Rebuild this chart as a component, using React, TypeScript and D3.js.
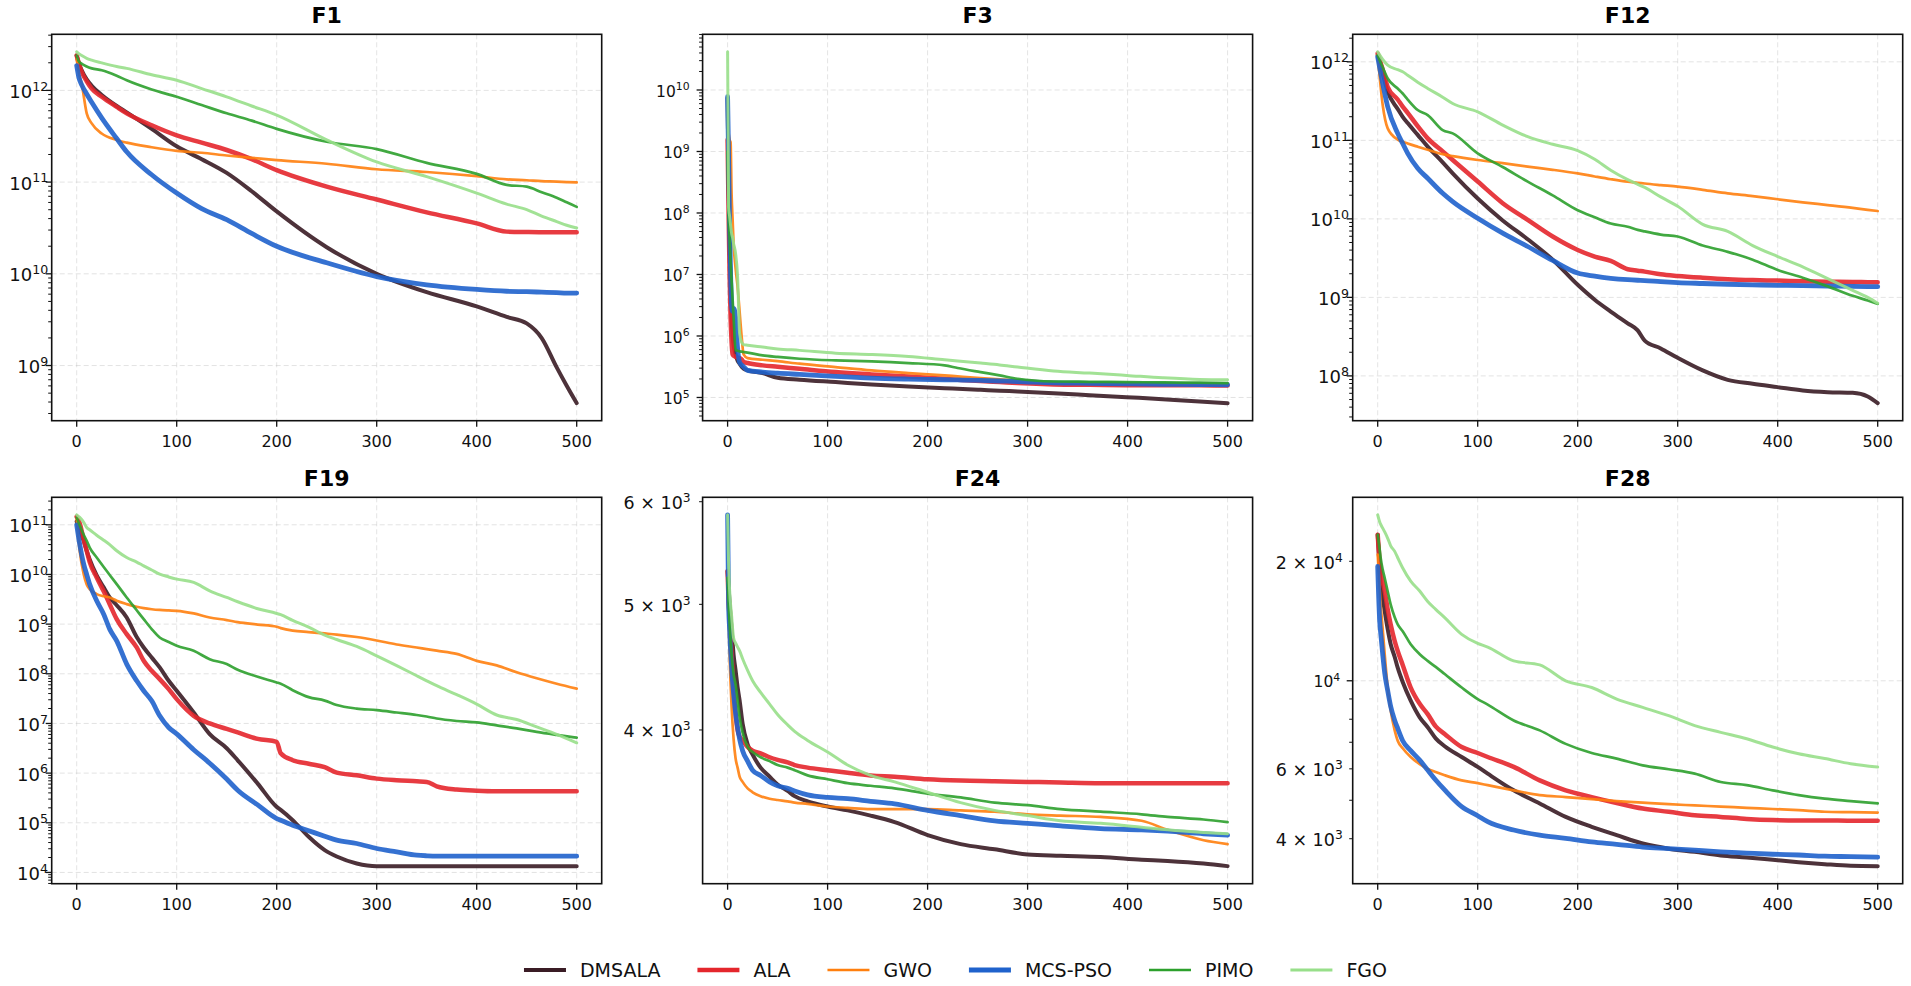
import { useEffect, useRef } from 'react';
import * as d3 from 'd3';

// Convergence curves, six benchmark functions.
// Values are log10(best fitness).

const algorithms = ['DMSALA', 'ALA', 'GWO', 'MCS-PSO', 'PIMO', 'FGO'];
const xTicks = [0, 100, 200, 300, 400, 500];

// ---- F1 ----
const f1Iter = [0, 2, 5, 10, 15, 25, 40, 50, 75, 100, 125, 150, 175, 200, 250, 300, 350, 400, 430, 450, 465, 480, 490, 500];
const f1Dmsala = [12.38, 12.30, 12.22, 12.12, 12.05, 11.95, 11.83, 11.76, 11.58, 11.39, 11.25, 11.10, 10.90, 10.68, 10.29, 10.0, 9.80, 9.645, 9.53, 9.46, 9.30, 8.98, 8.78, 8.59];
const f1Ala = [12.38, 12.30, 12.20, 12.10, 12.02, 11.93, 11.82, 11.75, 11.62, 11.51, 11.43, 11.35, 11.25, 11.13, 10.95, 10.81, 10.67, 10.55, 10.46, 10.455, 10.453, 10.453, 10.453, 10.453];
const f1Gwo = [12.34, 12.20, 12.07, 11.75, 11.64, 11.53, 11.46, 11.43, 11.38, 11.34, 11.32, 11.29, 11.265, 11.24, 11.20, 11.14, 11.11, 11.065, 11.03, 11.02, 11.01, 11.005, 11.0, 10.996];
const f1Mcs = [12.27, 12.15, 12.06, 11.96, 11.87, 11.70, 11.475, 11.33, 11.08, 10.88, 10.71, 10.59, 10.44, 10.30, 10.12, 9.97, 9.88, 9.83, 9.81, 9.805, 9.80, 9.795, 9.79, 9.79];
const f1Pimo = [12.38, 12.32, 12.29, 12.26, 12.24, 12.22, 12.16, 12.11, 12.01, 11.93, 11.84, 11.75, 11.67, 11.58, 11.44, 11.36, 11.21, 11.09, 10.97, 10.95, 10.89, 10.83, 10.78, 10.73];
const f1Fgo = [12.42, 12.40, 12.38, 12.35, 12.33, 12.30, 12.26, 12.24, 12.17, 12.11, 12.02, 11.93, 11.83, 11.73, 11.46, 11.22, 11.06, 10.88, 10.76, 10.70, 10.63, 10.57, 10.53, 10.50];

// ---- F3 ----
const f3Iter = [0, 1, 2, 3, 4, 5, 6, 8, 10, 12, 14, 16, 20, 35, 50, 72, 108, 144, 181, 217, 230, 253, 272, 290, 326, 362, 399, 435, 472, 500];
const f3Dmsala = [9.87, 8.5, 7.5, 6.8, 6.3, 6.0, 5.85, 5.7, 5.6, 5.55, 5.5, 5.47, 5.44, 5.397, 5.32, 5.288, 5.25, 5.212, 5.179, 5.152, 5.143, 5.125, 5.11, 5.098, 5.07, 5.038, 5.005, 4.973, 4.935, 4.908];
const f3Ala = [9.19, 8.0, 7.0, 6.3, 5.9, 5.7, 5.68, 5.66, 5.65, 5.64, 5.62, 5.58, 5.56, 5.522, 5.5, 5.467, 5.413, 5.375, 5.342, 5.304, 5.29, 5.266, 5.25, 5.234, 5.212, 5.205, 5.2, 5.198, 5.197, 5.196];
const f3Gwo = [9.85, 9.3, 9.19, 9.15, 8.3, 7.9, 7.5, 7.1, 6.8, 6.4, 6.0, 5.70, 5.64, 5.614, 5.59, 5.549, 5.494, 5.44, 5.397, 5.359, 5.343, 5.315, 5.295, 5.277, 5.25, 5.24, 5.235, 5.23, 5.226, 5.223];
const f3Mcs = [9.89, 8.9, 7.8, 7.0, 6.5, 6.4, 6.45, 6.3, 5.8, 5.57, 5.53, 5.5, 5.44, 5.413, 5.395, 5.375, 5.342, 5.315, 5.299, 5.288, 5.285, 5.277, 5.268, 5.26, 5.239, 5.23, 5.222, 5.215, 5.21, 5.207];
const f3Pimo = [9.0, 7.95, 7.6, 7.2, 6.9, 6.6, 6.3, 5.77, 5.76, 5.75, 5.745, 5.74, 5.73, 5.685, 5.66, 5.63, 5.603, 5.587, 5.56, 5.522, 5.48, 5.413, 5.359, 5.304, 5.26, 5.255, 5.25, 5.245, 5.24, 5.234];
const f3Fgo = [10.62, 8.1, 7.95, 7.8, 7.67, 7.6, 7.5, 7.34, 6.96, 6.04, 5.9, 5.86, 5.85, 5.82, 5.79, 5.766, 5.72, 5.70, 5.668, 5.614, 5.595, 5.56, 5.53, 5.495, 5.43, 5.397, 5.359, 5.32, 5.293, 5.288];

// ---- F12 ----
const f12Iter = [0, 5, 10, 20, 25, 30, 40, 50, 65, 75, 100, 125, 150, 175, 200, 217, 233, 250, 260, 267, 283, 300, 325, 350, 375, 400, 425, 450, 475, 490, 500];
const f12Dmsala = [12.085, 11.85, 11.62, 11.40, 11.30, 11.22, 11.07, 10.92, 10.72, 10.58, 10.26, 9.98, 9.74, 9.48, 9.16, 8.97, 8.82, 8.67, 8.58, 8.45, 8.35, 8.23, 8.07, 7.95, 7.90, 7.857, 7.814, 7.793, 7.785, 7.738, 7.653];
const f12Ala = [12.106, 11.90, 11.68, 11.52, 11.43, 11.35, 11.18, 11.025, 10.86, 10.75, 10.475, 10.2, 9.987, 9.775, 9.604, 9.52, 9.464, 9.358, 9.34, 9.328, 9.294, 9.273, 9.25, 9.231, 9.22, 9.214, 9.205, 9.2, 9.195, 9.194, 9.193];
const f12Gwo = [12.085, 11.45, 11.153, 11.01, 10.983, 10.96, 10.919, 10.88, 10.825, 10.80, 10.75, 10.71, 10.665, 10.625, 10.579, 10.54, 10.505, 10.473, 10.46, 10.45, 10.43, 10.41, 10.37, 10.325, 10.29, 10.25, 10.21, 10.176, 10.14, 10.115, 10.10];
const f12Mcs = [12.064, 11.725, 11.428, 11.089, 10.96, 10.835, 10.644, 10.517, 10.326, 10.22, 10.008, 9.818, 9.648, 9.47, 9.31, 9.27, 9.243, 9.225, 9.218, 9.214, 9.20, 9.188, 9.177, 9.167, 9.16, 9.154, 9.15, 9.145, 9.14, 9.138, 9.137];
const f12Pimo = [12.085, 11.93, 11.788, 11.66, 11.597, 11.52, 11.386, 11.322, 11.131, 11.089, 10.835, 10.66, 10.475, 10.30, 10.11, 10.02, 9.94, 9.90, 9.86, 9.84, 9.80, 9.775, 9.66, 9.58, 9.48, 9.35, 9.25, 9.14, 9.02, 8.96, 8.917];
const f12Fgo = [12.127, 12.03, 11.958, 11.90, 11.873, 11.83, 11.74, 11.661, 11.55, 11.47, 11.364, 11.195, 11.047, 10.95, 10.87, 10.76, 10.62, 10.50, 10.44, 10.40, 10.28, 10.16, 9.93, 9.84, 9.66, 9.52, 9.39, 9.24, 9.09, 9.0, 8.926];

// ---- F19 ----
const f19Iter = [0, 3, 7, 10, 13, 20, 27, 33, 40, 50, 60, 67, 75, 83, 92, 100, 117, 133, 150, 161, 181, 200, 204, 216, 232, 248, 260, 280, 300, 320, 340, 350, 360, 380, 400, 420, 440, 460, 480, 500];
const f19Dmsala = [11.067, 10.9, 10.68, 10.477, 10.3, 9.98, 9.74, 9.537, 9.38, 9.134, 8.74, 8.53, 8.329, 8.128, 7.859, 7.658, 7.221, 6.785, 6.5, 6.258, 5.789, 5.32, 5.26, 5.052, 4.717, 4.449, 4.32, 4.181, 4.127, 4.127, 4.127, 4.127, 4.127, 4.127, 4.127, 4.127, 4.127, 4.127, 4.127, 4.127];
const f19Ala = [11.161, 11.03, 10.7, 10.477, 10.25, 9.94, 9.66, 9.40, 9.1, 8.799, 8.53, 8.262, 8.06, 7.893, 7.691, 7.49, 7.154, 7.00, 6.89, 6.82, 6.69, 6.63, 6.40, 6.26, 6.19, 6.12, 6.01, 5.956, 5.889, 5.856, 5.835, 5.822, 5.735, 5.668, 5.645, 5.635, 5.635, 5.635, 5.635, 5.635];
const f19Gwo = [11.114, 10.477, 10.007, 9.80, 9.705, 9.604, 9.56, 9.537, 9.47, 9.403, 9.35, 9.322, 9.30, 9.285, 9.275, 9.268, 9.215, 9.134, 9.081, 9.04, 8.99, 8.946, 8.92, 8.87, 8.84, 8.812, 8.79, 8.74, 8.67, 8.59, 8.53, 8.497, 8.465, 8.40, 8.26, 8.17, 8.03, 7.91, 7.80, 7.70];
const f19Mcs = [11.0, 10.611, 10.208, 10.0, 9.805, 9.47, 9.201, 8.899, 8.664, 8.195, 7.859, 7.658, 7.456, 7.154, 6.919, 6.79, 6.47, 6.2, 5.88, 5.655, 5.36, 5.085, 5.05, 4.95, 4.84, 4.73, 4.65, 4.583, 4.482, 4.415, 4.348, 4.335, 4.328, 4.328, 4.328, 4.328, 4.328, 4.328, 4.328, 4.328];
const f19Pimo = [11.148, 10.99, 10.80, 10.678, 10.54, 10.342, 10.15, 9.99, 9.805, 9.537, 9.28, 9.1, 8.90, 8.732, 8.64, 8.564, 8.463, 8.295, 8.195, 8.08, 7.94, 7.826, 7.80, 7.67, 7.53, 7.46, 7.37, 7.30, 7.268, 7.22, 7.17, 7.14, 7.10, 7.05, 7.02, 6.96, 6.90, 6.83, 6.77, 6.714];
const f19Fgo = [11.2, 11.15, 11.05, 10.946, 10.90, 10.79, 10.69, 10.60, 10.477, 10.342, 10.25, 10.174, 10.09, 10.007, 9.95, 9.906, 9.839, 9.671, 9.537, 9.45, 9.31, 9.215, 9.19, 9.075, 8.94, 8.78, 8.69, 8.55, 8.362, 8.165, 7.96, 7.859, 7.76, 7.58, 7.389, 7.17, 7.08, 6.93, 6.78, 6.61];

// ---- F24 ----
const f24Iter = [0, 1, 2, 4, 6, 8, 10, 12, 15, 20, 25, 33, 42, 50, 60, 67, 80, 100, 120, 143, 167, 200, 233, 267, 300, 333, 373, 414, 440, 476, 500];
const f24Dmsala = [3.7247, 3.712, 3.70, 3.68, 3.66, 3.648, 3.635, 3.625, 3.607, 3.591, 3.583, 3.573, 3.566, 3.56, 3.555, 3.551, 3.547, 3.543, 3.540, 3.536, 3.531, 3.521, 3.514, 3.51, 3.506, 3.505, 3.504, 3.502, 3.501, 3.499, 3.497];
const f24Ala = [3.7247, 3.70, 3.69, 3.66, 3.635, 3.615, 3.602, 3.597, 3.594, 3.589, 3.586, 3.584, 3.581, 3.579, 3.577, 3.575, 3.573, 3.571, 3.569, 3.567, 3.566, 3.564, 3.563, 3.5625, 3.562, 3.5615, 3.561, 3.561, 3.561, 3.561, 3.561];
const f24Gwo = [3.72, 3.69, 3.66, 3.62, 3.595, 3.58, 3.573, 3.566, 3.562, 3.557, 3.554, 3.551, 3.549, 3.548, 3.547, 3.546, 3.545, 3.543, 3.542, 3.541, 3.541, 3.541, 3.54, 3.539, 3.537, 3.536, 3.535, 3.532, 3.525, 3.517, 3.514];
const f24Mcs = [3.768, 3.70, 3.68, 3.65, 3.63, 3.615, 3.604, 3.595, 3.586, 3.578, 3.571, 3.567, 3.562, 3.559, 3.557, 3.555, 3.552, 3.550, 3.549, 3.547, 3.545, 3.540, 3.536, 3.532, 3.530, 3.528, 3.526, 3.525, 3.524, 3.522, 3.521];
const f24Pimo = [3.7195, 3.70, 3.685, 3.66, 3.645, 3.637, 3.625, 3.612, 3.60, 3.589, 3.585, 3.581, 3.578, 3.575, 3.573, 3.571, 3.567, 3.564, 3.561, 3.559, 3.557, 3.553, 3.55, 3.546, 3.544, 3.541, 3.539, 3.537, 3.535, 3.533, 3.531];
const f24Fgo = [3.768, 3.73, 3.71, 3.69, 3.673, 3.669, 3.666, 3.663, 3.657, 3.648, 3.64, 3.631, 3.622, 3.614, 3.606, 3.601, 3.594, 3.585, 3.575, 3.567, 3.562, 3.554, 3.546, 3.54, 3.536, 3.532, 3.53, 3.527, 3.525, 3.523, 3.522];

// ---- F28 ----
const f28Iter = [0, 2, 3, 5, 7, 10, 13, 17, 20, 25, 33, 42, 50, 58, 67, 84, 100, 110, 136, 162, 188, 214, 239, 265, 291, 317, 343, 369, 395, 421, 447, 473, 500];
const f28Dmsala = [4.368, 4.28, 4.243, 4.21, 4.176, 4.13, 4.092, 4.06, 4.033, 3.997, 3.95, 3.908, 3.883, 3.855, 3.835, 3.808, 3.783, 3.766, 3.724, 3.691, 3.657, 3.632, 3.611, 3.59, 3.577, 3.569, 3.56, 3.555, 3.549, 3.543, 3.538, 3.534, 3.533];
const f28Ala = [4.368, 4.30, 4.276, 4.25, 4.226, 4.18, 4.142, 4.10, 4.075, 4.04, 3.983, 3.942, 3.916, 3.885, 3.866, 3.833, 3.818, 3.808, 3.783, 3.749, 3.724, 3.707, 3.692, 3.678, 3.67, 3.661, 3.657, 3.652, 3.649, 3.648, 3.648, 3.6475, 3.6475];
const f28Gwo = [4.318, 4.23, 4.192, 4.13, 4.067, 3.983, 3.925, 3.875, 3.849, 3.83, 3.808, 3.79, 3.778, 3.77, 3.762, 3.749, 3.742, 3.737, 3.724, 3.712, 3.707, 3.702, 3.697, 3.693, 3.689, 3.686, 3.683, 3.68, 3.677, 3.674, 3.67, 3.669, 3.668];
const f28Mcs = [4.288, 4.15, 4.12, 4.067, 4.02, 3.975, 3.935, 3.90, 3.88, 3.849, 3.824, 3.80, 3.775, 3.75, 3.725, 3.683, 3.66, 3.645, 3.624, 3.611, 3.603, 3.594, 3.588, 3.581, 3.577, 3.573, 3.569, 3.566, 3.563, 3.561, 3.558, 3.557, 3.5555];
const f28Pimo = [4.368, 4.33, 4.309, 4.28, 4.259, 4.225, 4.192, 4.16, 4.142, 4.125, 4.092, 4.067, 4.05, 4.035, 4.017, 3.983, 3.954, 3.94, 3.90, 3.875, 3.841, 3.818, 3.804, 3.787, 3.777, 3.766, 3.745, 3.737, 3.724, 3.712, 3.703, 3.697, 3.691];
const f28Fgo = [4.418, 4.40, 4.394, 4.3845, 4.375, 4.359, 4.34, 4.326, 4.31, 4.284, 4.251, 4.226, 4.20, 4.18, 4.159, 4.117, 4.094, 4.085, 4.05, 4.04, 4.0, 3.983, 3.954, 3.933, 3.912, 3.887, 3.87, 3.854, 3.833, 3.816, 3.804, 3.791, 3.7826];

// minor ticks that carry a label (m x 10^k)
const f24MinorLabels = [4000, 5000, 6000];
const f28MinorLabels = [4000, 6000, 20000];

// ---- styling / layout ----
const colors = ['#3a1c25', '#e4262c', '#ff7f0e', '#1f62cc', '#2ca02c', '#98df8a'];
const widths = [4, 4.5, 2.7, 4.8, 2.7, 3];
const FONT = '"DejaVu Sans", sans-serif';
const W = 1911;
const H = 986;
const colLeft = [51.7, 702.6, 1352.7];
const rowTop = [34.3, 497.3];
const plotW = 550;
const plotH = 386.4;

interface Panel {
  title: string;
  iter: number[];
  series: number[][];
  minorLabels: number[];
  majorSize: number;
  majorGap: number;
  minorSize: number;
  minorGap: number;
}

const panels: Panel[] = [
  { title: 'F1', iter: f1Iter, series: [f1Dmsala, f1Ala, f1Gwo, f1Mcs, f1Pimo, f1Fgo], minorLabels: [], majorSize: 18, majorGap: 3.5, minorSize: 17.5, minorGap: 11 },
  { title: 'F3', iter: f3Iter, series: [f3Dmsala, f3Ala, f3Gwo, f3Mcs, f3Pimo, f3Fgo], minorLabels: [], majorSize: 15.5, majorGap: 13, minorSize: 17.5, minorGap: 11 },
  { title: 'F12', iter: f12Iter, series: [f12Dmsala, f12Ala, f12Gwo, f12Mcs, f12Pimo, f12Fgo], minorLabels: [], majorSize: 18, majorGap: 3.7, minorSize: 17.5, minorGap: 11 },
  { title: 'F19', iter: f19Iter, series: [f19Dmsala, f19Ala, f19Gwo, f19Mcs, f19Pimo, f19Fgo], minorLabels: [], majorSize: 18, majorGap: 3.7, minorSize: 17.5, minorGap: 11 },
  { title: 'F24', iter: f24Iter, series: [f24Dmsala, f24Ala, f24Gwo, f24Mcs, f24Pimo, f24Fgo], minorLabels: f24MinorLabels, majorSize: 15.5, majorGap: 13, minorSize: 17.5, minorGap: 12 },
  { title: 'F28', iter: f28Iter, series: [f28Dmsala, f28Ala, f28Gwo, f28Mcs, f28Pimo, f28Fgo], minorLabels: f28MinorLabels, majorSize: 15.5, majorGap: 12.5, minorSize: 17.5, minorGap: 10 },
];

function drawPanel(svg: d3.Selection<SVGSVGElement, unknown, null, undefined>, p: Panel, idx: number) {
  const left = colLeft[idx % 3];
  const top = rowTop[Math.floor(idx / 3)];
  const bottom = top + plotH;

  const x = d3.scaleLinear().domain([-25, 525]).range([left, left + plotW]);

  // matplotlib-like 5% margin in log space
  const [lo, hi] = d3.extent(p.series.flat()) as [number, number];
  const pad = (hi - lo) * 0.05;
  const y = d3.scaleLog().domain([10 ** (lo - pad), 10 ** (hi + pad)]).range([bottom, top]);
  const [d0, d1] = y.domain();

  const majors: number[] = [];
  const minors: number[] = [];
  for (let k = Math.floor(Math.log10(d0)); k <= Math.ceil(Math.log10(d1)); k++) {
    const base = 10 ** k;
    if (base >= d0 && base <= d1) majors.push(base);
    for (let m = 2; m <= 9; m++) {
      const v = m * base;
      if (v >= d0 && v <= d1) minors.push(v);
    }
  }

  const g = svg.append('g').attr('class', `panel-${p.title}`);

  const clipId = `clip-${idx}`;
  svg.append('defs').append('clipPath').attr('id', clipId)
    .append('rect').attr('x', left).attr('y', top).attr('width', plotW).attr('height', plotH);

  // grid
  const grid = g.append('g').attr('stroke', '#b8b8b8').attr('stroke-opacity', 0.4)
    .attr('stroke-width', 1).attr('stroke-dasharray', '5,3');
  grid.selectAll('line.gx').data(xTicks).join('line').attr('class', 'gx')
    .attr('x1', d => x(d)).attr('x2', d => x(d)).attr('y1', top).attr('y2', bottom);
  grid.selectAll('line.gy').data(majors).join('line').attr('class', 'gy')
    .attr('x1', left).attr('x2', left + plotW).attr('y1', d => y(d)).attr('y2', d => y(d));

  // curves
  const lines = g.append('g').attr('clip-path', `url(#${clipId})`);
  p.series.forEach((vals, j) => {
    const line = d3.line<number>()
      .x((_, k) => x(p.iter[k]))
      .y(v => y(10 ** v))
      .curve(d3.curveMonotoneX);
    lines.append('path')
      .datum(vals)
      .attr('fill', 'none')
      .attr('stroke', colors[j])
      .attr('stroke-opacity', 0.9)
      .attr('stroke-width', widths[j])
      .attr('stroke-linejoin', 'round')
      .attr('stroke-linecap', 'round')
      .attr('d', line);
  });

  // frame
  g.append('rect').attr('x', left).attr('y', top).attr('width', plotW).attr('height', plotH)
    .attr('fill', 'none').attr('stroke', '#111').attr('stroke-width', 1.6);

  // x ticks
  const xt = g.append('g');
  xt.selectAll('line').data(xTicks).join('line')
    .attr('x1', d => x(d)).attr('x2', d => x(d)).attr('y1', bottom).attr('y2', bottom + 6)
    .attr('stroke', '#111').attr('stroke-width', 1.3);
  xt.selectAll('text').data(xTicks).join('text')
    .attr('x', d => x(d)).attr('y', bottom + 26.6)
    .attr('text-anchor', 'middle')
    .style('font-family', FONT).style('font-size', '16px').style('fill', '#111')
    .text(d => d);

  // y ticks
  const yt = g.append('g');
  yt.selectAll('line.maj').data(majors).join('line').attr('class', 'maj')
    .attr('x1', left - 6).attr('x2', left).attr('y1', d => y(d)).attr('y2', d => y(d))
    .attr('stroke', '#111').attr('stroke-width', 1.3);
  yt.selectAll('line.min').data(minors).join('line').attr('class', 'min')
    .attr('x1', left - 3.5).attr('x2', left).attr('y1', d => y(d)).attr('y2', d => y(d))
    .attr('stroke', '#111').attr('stroke-width', 1);

  const addLabel = (v: number, mant: number, exp: number, fs: number, gap: number) => {
    const t = yt.append('text')
      .attr('x', left - gap)
      .attr('y', y(v) + 0.365 * fs + 1)
      .attr('text-anchor', 'end')
      .style('font-family', FONT).style('font-size', `${fs}px`).style('fill', '#111');
    t.append('tspan').text(mant === 1 ? '10' : `${mant} \u00d7 10`);
    t.append('tspan').attr('dy', -0.4 * fs).style('font-size', `${0.7 * fs}px`).text(exp);
  };

  majors.forEach(v => addLabel(v, 1, Math.round(Math.log10(v)), p.majorSize, p.majorGap));
  minors.forEach(v => {
    if (!p.minorLabels.some(l => Math.abs(l - v) < 1e-6 * v)) return;
    const k = Math.floor(Math.log10(v) + 1e-9);
    addLabel(v, Math.round(v / 10 ** k), k, p.minorSize, p.minorGap);
  });

  // title
  g.append('text')
    .attr('x', left + plotW / 2).attr('y', top - 11)
    .attr('text-anchor', 'middle')
    .style('font-family', FONT).style('font-size', '22px').style('font-weight', 'bold').style('fill', '#000')
    .text(p.title);
}

function drawLegend(svg: d3.Selection<SVGSVGElement, unknown, null, undefined>) {
  const cy = 970;
  const handle = 42;
  const gapText = 14;
  const gapItem = 37;
  const lg = svg.append('g').attr('class', 'legend');

  const items = algorithms.map((name, i) => {
    const item = lg.append('g');
    item.append('line').attr('x1', 0).attr('x2', handle).attr('y1', cy).attr('y2', cy)
      .attr('stroke', colors[i]).attr('stroke-width', widths[i]);
    const txt = item.append('text')
      .attr('x', handle + gapText).attr('y', cy + 0.365 * 19)
      .style('font-family', FONT).style('font-size', '19px').style('fill', '#111')
      .text(name);
    const w = (txt.node() as SVGTextElement).getComputedTextLength();
    return { item, w: handle + gapText + w };
  });

  const total = d3.sum(items, d => d.w) + gapItem * (items.length - 1);
  let cursor = W / 2 - total / 2;
  items.forEach(d => {
    d.item.attr('transform', `translate(${cursor},0)`);
    cursor += d.w + gapItem;
  });
}

export default function App() {
  const svgRef = useRef<SVGSVGElement>(null);

  useEffect(() => {
    document.body.style.margin = '0';
    if (!svgRef.current) return;
    const svg = d3.select(svgRef.current);
    svg.selectAll('*').remove();
    panels.forEach((p, i) => drawPanel(svg, p, i));
    drawLegend(svg);
  }, []);

  return (
    <svg
      ref={svgRef}
      width={W}
      height={H}
      style={{ display: 'block', background: '#fff' }}
    />
  );
}
